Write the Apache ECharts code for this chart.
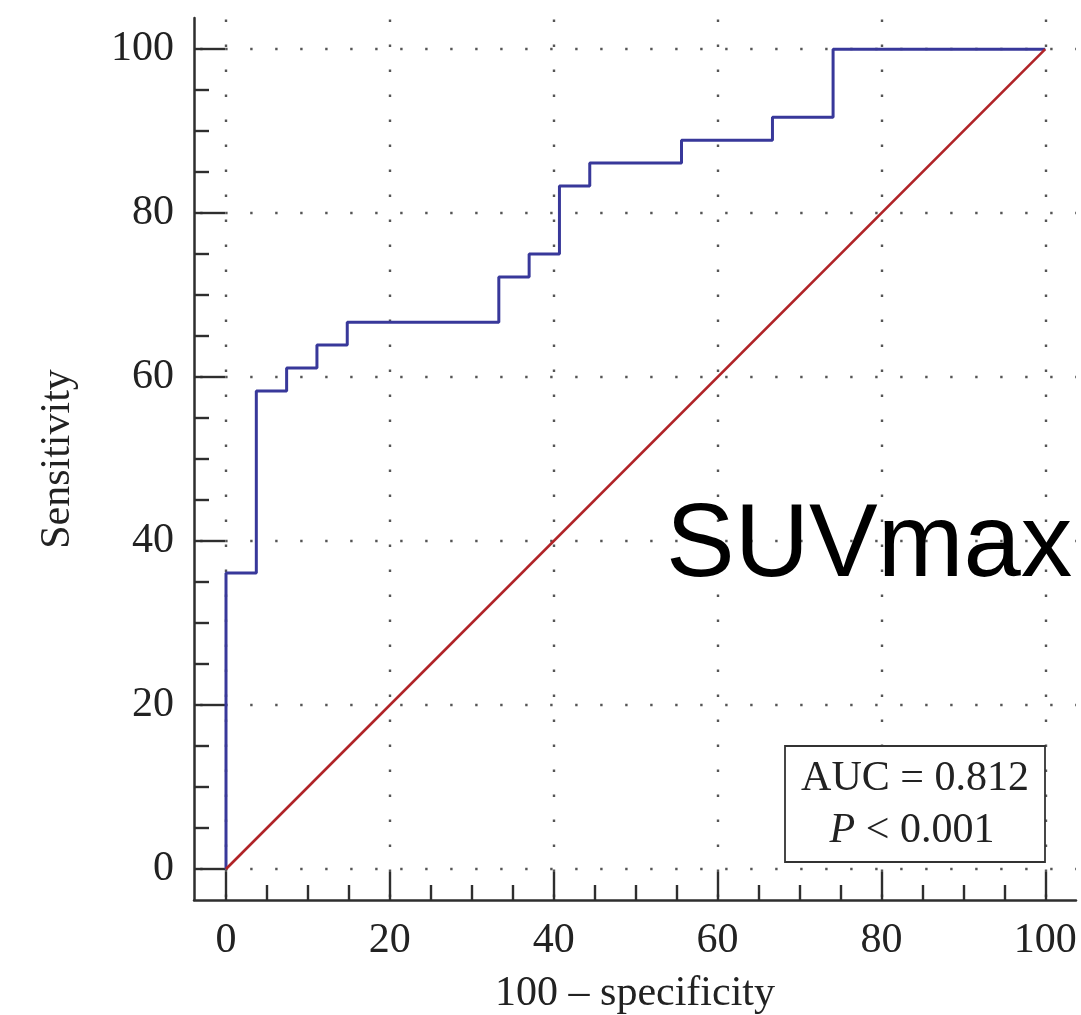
<!DOCTYPE html>
<html><head><meta charset="utf-8">
<script src="https://cdn.jsdelivr.net/npm/echarts@6/dist/echarts.min.js"></script>
<style>html,body{margin:0;padding:0;background:#fff}#c{width:1081px;height:1015px}</style>
</head><body><div id="c"></div>
<script>
// ROC curve points (100 - specificity, sensitivity)
const fpr = [0, 0, 3.7, 7.4, 11.1, 14.8, 33.3, 37.0, 40.7, 44.4, 55.6, 66.7, 74.1, 100];
const tpr = [0, 36.1, 58.3, 61.1, 63.9, 66.7, 72.2, 75.0, 83.3, 86.1, 88.9, 91.7, 100, 100];
// reference (chance) line
const refX = [0, 100];
const refY = [0, 100];
// tick values
const majorTicks = [0, 20, 40, 60, 80, 100];
const minorTicks = [5, 10, 15, 25, 30, 35, 45, 50, 55, 65, 70, 75, 85, 90, 95];
// texts
const xTitle = '100 \u2013 specificity';
const yTitle = 'Sensitivity';
const panelLabel = 'SUVmax';
const aucText = 'AUC = 0.812';
const pText = '< 0.001';

const XMIN = -3.906, XMAX = 103.75, YMIN = -3.78, YMAX = 103.8;
const AX = '#2e2e2e';
const TXT = '#222222';
const SERIF = "'Liberation Serif', 'DejaVu Serif', serif";

const rocData = fpr.map((x, i) => [x, tpr[i]]);
const refData = refX.map((x, i) => [x, refY[i]]);

const gridLine = (off) => ({
  show: true,
  lineStyle: { color: '#555555', width: 2.4, type: [2.4, 22.6], dashOffset: off }
});

function xAxes() {
  return [
    {
      type: 'value', min: XMIN, max: XMAX, position: 'bottom', gridIndex: 0,
      axisLine: { show: true, onZero: false, lineStyle: { color: AX, width: 2.5 } },
      axisTick: { show: true, inside: true, length: 28, customValues: majorTicks, lineStyle: { color: AX, width: 2.4 } },
      axisLabel: { show: true, customValues: majorTicks, margin: 20, color: TXT, fontFamily: SERIF, fontSize: 42 },
      splitLine: gridLine(23.4),
      name: xTitle, nameLocation: 'middle', nameGap: 73,
      nameTextStyle: { color: TXT, fontFamily: SERIF, fontSize: 42 }
    },
    {
      type: 'value', min: XMIN, max: XMAX, position: 'bottom', offset: 0, gridIndex: 0,
      axisLine: { show: false, onZero: false },
      axisTick: { show: true, inside: true, length: 15, customValues: minorTicks, lineStyle: { color: AX, width: 2.4 } },
      axisLabel: { show: false },
      splitLine: { show: false }
    }
  ];
}
function yAxes() {
  return [
    {
      type: 'value', min: YMIN, max: YMAX, position: 'left', gridIndex: 0,
      axisLine: { show: true, onZero: false, lineStyle: { color: AX, width: 2.5 } },
      axisTick: { show: true, inside: true, length: 31, customValues: majorTicks, lineStyle: { color: AX, width: 2.4 } },
      axisLabel: { show: true, customValues: majorTicks, margin: 20, color: TXT, fontFamily: SERIF, fontSize: 42 },
      splitLine: gridLine(18.8),
      name: yTitle, nameLocation: 'middle', nameGap: 115, nameRotate: 90,
      nameTextStyle: { color: TXT, fontFamily: SERIF, fontSize: 42 }
    },
    {
      type: 'value', min: YMIN, max: YMAX, position: 'left', offset: 0, gridIndex: 0,
      axisLine: { show: false, onZero: false },
      axisTick: { show: true, inside: true, length: 15, customValues: minorTicks, lineStyle: { color: AX, width: 2.4 } },
      axisLabel: { show: false },
      splitLine: { show: false }
    }
  ];
}

const chart = echarts.init(document.getElementById('c'), null, { renderer: 'canvas' });
chart.setOption({
  animation: false,
  backgroundColor: '#ffffff',
  grid: { left: 194, top: 18, right: 5, bottom: 115, containLabel: false, outerBoundsMode: 'none' },
  xAxis: xAxes(),
  yAxis: yAxes(),
  series: [
    {
      type: 'line', name: 'ROC', data: rocData, step: 'end', symbol: 'none',
      xAxisIndex: 0, yAxisIndex: 0, z: 3,
      lineStyle: { color: '#38389a', width: 3 }
    },
    {
      type: 'line', name: 'Reference', data: refData, symbol: 'none',
      xAxisIndex: 0, yAxisIndex: 0, z: 4,
      lineStyle: { color: '#b02327', width: 2.6 }
    }
  ],
  graphic: [
    {
      type: 'text', left: 666, top: 496, z: 10,
      style: { text: panelLabel, fontFamily: "'Liberation Sans', Arial, sans-serif", fontSize: 103, fill: '#000' }
    },
    {
      type: 'rect', shape: { x: 785, y: 746, width: 260, height: 116 }, z: 10,
      style: { fill: '#ffffff', stroke: '#333333', lineWidth: 1.8 }
    },
    {
      type: 'text', x: 915, y: 779, z: 11,
      style: { text: aucText, align: 'center', verticalAlign: 'middle', fontFamily: SERIF, fontSize: 42, fill: TXT }
    },
    {
      type: 'text', x: 912, y: 831, z: 11,
      style: {
        text: '{i|P} ' + pText, align: 'center', verticalAlign: 'middle',
        fontFamily: SERIF, fontSize: 42, fill: TXT,
        rich: { i: { fontStyle: 'italic', fontFamily: SERIF, fontSize: 42, fill: TXT } }
      }
    }
  ]
});
</script></body></html>
